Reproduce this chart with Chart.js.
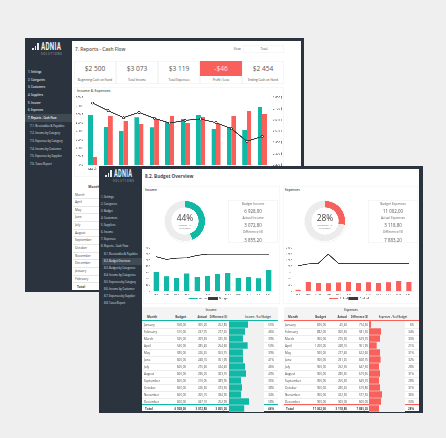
<!DOCTYPE html>
<html>
<head>
<meta charset="utf-8">
<script src="https://cdn.jsdelivr.net/npm/chart.js@4/dist/chart.umd.min.js"></script>
<style>
html, body { margin: 0; padding: 0; background: #efefef; }
body { width: 446px; height: 438px; overflow: hidden; position: relative; font-family: "Open Sans", sans-serif; color: #444; filter: blur(0.35px); }
.box, canvas, .txt { position: absolute; }
.txt { white-space: nowrap; line-height: 1; transform-origin: 0 0; }
</style>
</head>
<body>
<script>
// data
const months = ['January', 'February', 'March', 'April', 'May', 'June', 'July', 'August', 'September', 'October', 'November', 'December']
const monthsShort = ['JAN', 'FEB', 'MAR', 'APR', 'MAY', 'JUN', 'JUL', 'AUG', 'SEP', 'OCT', 'NOV', 'DEC']
const cashMonths = ['March', 'April', 'May', 'June', 'July', 'August', 'September', 'October', 'November', 'December', 'January', 'February']

const cashIncome = [594, 451, 408, 566, 447, 507, 543, 594, 428, 455, 420, 685]
const cashExpenses = [99, 586, 523, 491, 543, 582, 499, 570, 491, 582, 642, 606]
const cashBalance = [2752, 2684, 2622, 2669, 2616, 2574, 2598, 2610, 2577, 2524, 2411, 2455]

const incomeBudget = [558, 515, 535, 540, 580, 600, 600, 600, 600, 600, 600, 600]
const incomeActual = [305.2, 237.75, 209.5, 285.4, 226.25, 248.1, 275.6, 296.25, 210.05, 226.5, 205.1, 347.1]
const incomeDiff = [252.8, 277.25, 325.5, 254.6, 353.75, 351.9, 324.4, 303.75, 389.95, 373.5, 394.9, 252.9]
const incomePct = [55, 46, 39, 53, 39, 41, 46, 49, 35, 38, 34, 58]
const incomeTotals = [6928, 3072.8, 3855.2, 44]

const expenseBudget = [820, 882, 900, 1200, 900, 900, 900, 900, 900, 900, 900, 900]
const expenseActual = [45.4, 300.5, 270.3, 248.1, 277.4, 291.25, 252.5, 280.35, 250.3, 280.2, 322.5, 300]
const expenseDiff = [774.6, 581.5, 629.7, 951.9, 622.6, 608.75, 647.5, 619.65, 649.7, 619.8, 577.5, 600]
const expensePct = [6, 34, 30, 21, 31, 32, 28, 31, 28, 31, 36, 33]
const expenseTotals = [11002, 3118.8, 7883.2, 28]

const kpiValues = ['$2 500', '$3 073', '$3 119', '-$46', '$2 454']
const kpiLabels = ['Beginning Cash on Hand', 'Total Income', 'Total Expenses', 'Profit / Loss', 'Ending Cash on Hand']
const backMenu = ['1. Settings', '2. Categories', '3. Customers', '4. Suppliers', '5. Income', '6. Expenses', '7. Reports - Cash Flow', '7.1. Receivables & Payables', '7.2. Income by Category', '7.3. Expenses by Category', '7.4. Income by Customer', '7.5. Expenses by Supplier', '7.6. Taxes Report']
const frontMenu = ['1. Settings', '2. Categories', '3. Budget', '4. Customers', '5. Suppliers', '6. Income', '7. Expenses', '8. Reports - Cash Flow', '8.1. Receivables & Payables', '8.2. Budget Overview', '8.3. Budget by Categories', '8.4. Income by Categories', '8.5. Expenses by Category', '8.6. Income by Customer', '8.7. Expenses by Supplier', '8.8. Taxes Report']

const TEAL = '#12b8a6'
const RED = '#f8605c'
const DARK = '#2b343e'
const LINE = '#3a3a3a'
const TEXT_ZOOM = 4


function addBox(x, y, w, h, bg, border) {
    const d = document.createElement('div')
    d.className = 'box'
    d.style.cssText = `left:${x}px;top:${y}px;width:${w}px;height:${h}px;background:${bg || 'transparent'};` +
        (border ? `box-shadow:inset 0 0 0 0.5px ${border};` : '')
    document.body.appendChild(d)
    return d
}


// y is the vertical middle of the text, align decides what x means.
// The browser has a minimum font size, so text is set large and scaled down.
function addText(text, x, y, size, opts) {
    opts = opts || {}
    const d = document.createElement('div')
    d.className = 'txt'
    d.textContent = text
    const tx = opts.align === 'right' ? '-100%' : opts.align === 'center' ? '-50%' : '0'
    const sx = (opts.squeeze || 1) / TEXT_ZOOM
    d.style.cssText = `left:${x}px;top:${y}px;font-size:${size * TEXT_ZOOM}px;` +
        `transform:scale(${sx},${1 / TEXT_ZOOM}) translate(${tx},-50%);` +
        `color:${opts.color || '#444'};font-weight:${opts.weight || 400};` +
        (opts.family ? `font-family:${opts.family};` : '') +
        (opts.spacing ? `letter-spacing:${opts.spacing * TEXT_ZOOM}px;` : '')
    document.body.appendChild(d)
}


function addCanvas(x, y, w, h) {
    const c = document.createElement('canvas')
    c.width = w
    c.height = h
    c.style.cssText = `left:${x}px;top:${y}px;width:${w}px;height:${h}px;`
    document.body.appendChild(c)
    return c
}


function money(v) {
    const parts = v.toFixed(2).split('.')
    return parts[0].replace(/\B(?=(\d{3})+$)/g, ' ') + ',' + parts[1]
}


function spaced(v) {
    return String(v).replace(/\B(?=(\d{3})+$)/g, ' ')
}


function addLogo(iconX, iconY, textX, textY, subX, subY, squeeze) {
    const heights = [2.5, 4.5, 7]
    heights.forEach((h, i) => {
        addBox(iconX + i * 2.6, iconY + 7 - h, 1.8, h, '#e8ecef')
    })
    addText('ADNIA', textX, textY, 10, { color: '#f0f3f5', weight: 700, family: 'Roboto', squeeze: squeeze, spacing: 0.5 })
    addText('SOLUTIONS', subX, subY, 2.7, { color: '#aab2b9', spacing: 0.75 })
}


function fixedWidth(w) {
    return (scale) => { scale.width = w }
}


function fixedHeight(h) {
    return (scale) => { scale.height = h }
}


function renderCashChart() {
    new Chart(addCanvas(74, 93, 216, 79), {
        type: 'bar',
        data: {
            labels: cashMonths,
            datasets: [
                { type: 'line', label: 'Balance', data: cashBalance, yAxisID: 'y2', borderColor: LINE, borderWidth: 1, pointRadius: 1.1, pointBackgroundColor: '#fff', pointBorderColor: LINE, pointBorderWidth: 0.7, tension: 0, order: 0 },
                { label: 'Income', data: cashIncome, backgroundColor: TEAL, categoryPercentage: 0.58, barPercentage: 1, order: 1 },
                { label: 'Expenses', data: cashExpenses, backgroundColor: RED, categoryPercentage: 0.58, barPercentage: 1, order: 1 }
            ]
        },
        options: {
            responsive: false,
            animation: false,
            devicePixelRatio: 3,
            layout: { padding: { top: 4.5 } },
            plugins: { legend: { display: false }, tooltip: { enabled: false } },
            scales: {
                x: { afterFit: fixedHeight(7), grid: { display: false, drawTicks: false }, border: { display: false }, ticks: { font: { size: 3.2 }, color: '#555', padding: 2, maxRotation: 0, autoSkip: false } },
                y: { min: 0, max: 800, afterFit: fixedWidth(11), grid: { display: false, drawTicks: false }, border: { display: false }, ticks: { stepSize: 100, font: { size: 2.8 }, color: '#666', padding: 2, callback: (v) => v + ' $' } },
                y2: { position: 'right', min: 2200, max: 2800, afterFit: fixedWidth(20), grid: { display: false, drawTicks: false }, border: { display: false }, ticks: { stepSize: 100, font: { size: 2.8 }, color: '#666', padding: 3, callback: (v) => spaced(v) + ' $' } }
            }
        }
    })
}


function renderBudgetChart(x, w, axisWidth, labels, actual, budget, max, step, color) {
    return new Chart(addCanvas(x, 245, w, 65), {
        type: 'bar',
        data: {
            labels: labels,
            datasets: [
                { label: 'Actual', data: actual, backgroundColor: color, barPercentage: 0.5, categoryPercentage: 1, order: 1 },
                { type: 'line', label: 'Budget', data: budget, borderColor: LINE, backgroundColor: LINE, borderWidth: 0.9, pointRadius: 0, tension: 0, order: 0 }
            ]
        },
        options: {
            responsive: false,
            animation: false,
            devicePixelRatio: 3,
            layout: { padding: { top: 3 } },
            plugins: {
                tooltip: { enabled: false },
                legend: { position: 'bottom', labels: { boxWidth: 9, boxHeight: 1.5, padding: 1, font: { size: 3 }, color: '#666', sort: (a, b) => a.datasetIndex - b.datasetIndex } }
            },
            scales: {
                x: { afterFit: fixedHeight(5), grid: { display: false, drawTicks: false }, border: { color: '#ccc', width: 0.5 }, ticks: { font: { size: 2.6 }, color: '#666', padding: 2, maxRotation: 0, autoSkip: false } },
                y: { min: 0, max: max, afterFit: fixedWidth(axisWidth), grid: { display: false, drawTicks: false }, border: { display: false }, ticks: { stepSize: step, font: { size: 2.6 }, color: '#666', padding: 1, callback: (v) => spaced(v) } }
            }
        }
    })
}


function renderDonut(cx, cy, value, color) {
    addBox(cx - 20.5, cy - 20.5, 41, 41).style.cssText += 'border-radius:50%;background:#fff;box-shadow:0 0 1.5px #ddd;'
    new Chart(addCanvas(cx - 20, cy - 20, 40, 40), {
        type: 'doughnut',
        data: { datasets: [{ data: [value, 100 - value], backgroundColor: [color, '#ececec'], borderWidth: 0 }] },
        options: {
            responsive: false,
            animation: false,
            devicePixelRatio: 3,
            cutout: '68%',
            plugins: { legend: { display: false }, tooltip: { enabled: false } }
        }
    })
}


function renderPctBars(x, w, values, color) {
    addBox(x, 321, w, 91, '#f1f1f1')
    new Chart(addCanvas(x, 321, w, 91), {
        type: 'bar',
        data: {
            labels: months.concat(['Total']),
            datasets: [{ data: values, backgroundColor: color, barPercentage: 0.88, categoryPercentage: 1 }]
        },
        options: {
            indexAxis: 'y',
            responsive: false,
            animation: false,
            devicePixelRatio: 3,
            plugins: { legend: { display: false }, tooltip: { enabled: false } },
            scales: {
                x: { display: false, min: 0, max: 100 },
                y: { display: false }
            }
        }
    })
}


function renderTable(t) {
    addBox(t.left, 307, t.right - t.left, 13, '#f4f4f4')
    addBox(t.left, 320, t.right - t.left, 0.8, t.color)
    addText(t.title, t.titleX, 310, 3, { align: 'center', weight: 600 })
    addText('Month', t.month + 8, 317, 3, { align: 'center', weight: 700 })
    addText('Budget', t.budget, 317, 3, { align: 'right', weight: 700 })
    addText('Actual', t.actual, 317, 3, { align: 'right', weight: 700 })
    addText('Difference ($)', t.diff, 317, 3, { align: 'right', weight: 700, squeeze: 0.85 })
    addText(t.barTitle, t.barTitleX, 317, 3, { align: 'center', weight: 600, squeeze: 0.85 })

    months.forEach((m, i) => {
        const y = 324.5 + 7 * i
        addBox(t.left, y + 3.4, t.right - t.left, 0.4, '#ececec')
        addText(m, t.month, y, 3.1)
        addText(money(t.budgetValues[i]), t.budget, y, 2.9, { align: 'right' })
        addText(money(t.actualValues[i]), t.actual, y, 2.9, { align: 'right' })
        addText(money(t.diffValues[i]), t.diff, y, 2.9, { align: 'right' })
        addText(t.pctValues[i] + '%', t.pct, y, 2.9, { align: 'right' })
    })

    addBox(t.left, 404, t.right - t.left, 0.8, t.color)
    addText('Total', t.month + 1, 408.5, 3.1, { weight: 700 })
    addText(money(t.totals[0]), t.budget, 408.5, 2.9, { align: 'right', weight: 700 })
    addText(money(t.totals[1]), t.actual, 408.5, 2.9, { align: 'right', weight: 700 })
    addText(money(t.totals[2]), t.diff, 408.5, 2.9, { align: 'right', weight: 700 })
    addText(t.totals[3] + '%', t.pct, 408.5, 2.9, { align: 'right', weight: 700 })

    renderPctBars(t.barX, t.barW, t.pctValues.concat([t.totals[3]]), t.color)
}


function drawBackWindow() {
    addBox(25, 38, 279, 254, DARK)
    addBox(72, 41, 229, 249, '#fff')
    addLogo(32, 43, 41, 46.7, 41, 53.7, 0.62)
    addBox(25, 114, 47, 8, '#3f4a55')

    backMenu.forEach((item, i) => {
        addText(item, i > 6 ? 30 : 28, 72 + 7.68 * i, 3, { color: i === 6 ? '#fff' : '#dfe3e6', weight: i < 7 ? 600 : 400, squeeze: 0.9 })
    })

    addText('7. Reports - Cash Flow', 75, 49, 5.2, { weight: 600, color: '#555', squeeze: 0.92 })
    addText('View:', 241, 49, 3, { align: 'right' })
    addBox(243, 45, 41, 8, '#fff', '#eee')
    addText('Total', 263.5, 49, 3, { align: 'center' })

    kpiValues.forEach((v, i) => {
        const x = 74 + 42 * i
        addBox(x, 61, 42, 23, '#fff', '#eee')
        if (i === 3) addBox(x, 61, 42, 15, RED)
        addText(v, x + 21, 68.5, 6.6, { align: 'center', color: i === 3 ? '#ffe3e1' : '#555' })
        addText(kpiLabels[i], x + 21, 79.5, 3, { align: 'center' })
    })

    addBox(74, 87, 210, 90, '#fff', '#f0f0f0')
    addText('Income & Expenses', 77, 91, 3.6, { weight: 600, color: '#555' })
    renderCashChart()

    addText('Month', 94, 187, 3.4, { align: 'center', weight: 700 })
    cashMonths.forEach((m, i) => {
        const y = 194.5 + 7.65 * i
        addBox(73, y + 3.6, 26, 0.4, '#e6e6e6')
        addText(m, 75, y, 3.2)
    })
    addText('Total', 77, 286.5, 3.2, { weight: 700 })
}


function drawFrontWindow() {
    addBox(99, 166, 324, 247, DARK)
    addBox(142, 169, 277, 242, '#fff')
    addLogo(105, 170, 114, 173.5, 113, 181, 0.56)
    addBox(102, 257.5, 40, 7, '#3f4a55')

    frontMenu.forEach((item, i) => {
        const y = i < 8 ? 197 + 7 * i : 254 + 7 * (i - 8)
        addText(item, i > 7 ? 104 : 101, y, 3, { color: i === 9 ? '#fff' : '#dfe3e6', squeeze: 0.88 })
    })

    addText('8.2. Budget Overview', 145, 176, 4.6, { weight: 700, color: '#4a4a4a' })
    addText('Income', 145, 190, 3.3, { weight: 600 })
    addText('Expenses', 285, 190, 3.3, { weight: 600 })
    addBox(143, 186, 137, 118, 'transparent', '#f2f2f2')
    addBox(283, 186, 135, 118, 'transparent', '#f2f2f2')

    renderDonut(185, 221, incomeTotals[3], TEAL)
    renderDonut(325, 221, expenseTotals[3], RED)
    addText(incomeTotals[3] + '%', 185, 218, 8.4, { align: 'center', color: '#444' })
    addText('Income - % ', 185, 225, 2.5, { align: 'center', color: '#777' })
    addText('of Budget', 185, 228, 2.5, { align: 'center', color: '#777' })
    addText(expenseTotals[3] + '%', 325, 218, 8.4, { align: 'center', color: '#444' })
    addText('Expenses - % ', 325, 225, 2.5, { align: 'center', color: '#777' })
    addText('of Budget', 325, 228, 2.5, { align: 'center', color: '#777' })

    addBox(228, 200, 50, 43, '#fff', '#eee')
    addText('Budget Income', 253, 204, 3.2, { align: 'center', color: '#666' })
    addText(money(incomeTotals[0]), 253, 211, 4.4, { align: 'center', color: '#555' })
    addText('Actual Income', 253, 218, 3.2, { align: 'center', color: '#666' })
    addText(money(incomeTotals[1]), 253, 225, 4.4, { align: 'center', color: '#555' })
    addText('Difference ($)', 253, 232, 3.2, { align: 'center', color: '#666' })
    addText(money(incomeTotals[2]), 253, 240, 4.4, { align: 'center', color: '#555' })

    addBox(368, 200, 50, 43, '#fff', '#eee')
    addText('Budget Expenses', 393, 204, 3.2, { align: 'center', color: '#666' })
    addText(money(expenseTotals[0]), 393, 211, 4.4, { align: 'center', color: '#555' })
    addText('Actual Expenses', 393, 218, 3.2, { align: 'center', color: '#666' })
    addText(money(expenseTotals[1]), 393, 225, 4.4, { align: 'center', color: '#555' })
    addText('Difference ($)', 393, 232, 3.2, { align: 'center', color: '#666' })
    addText(money(expenseTotals[2]), 393, 240, 4.4, { align: 'center', color: '#555' })

    renderBudgetChart(143, 131, 8, monthsShort, incomeActual, incomeBudget, 700, 100, TEAL)
    renderBudgetChart(284, 130, 9, monthsShort, expenseActual, expenseBudget, 1400, 200, RED)

    renderTable({
        title: 'Income', titleX: 211, left: 142, right: 278, color: TEAL,
        month: 144, budget: 186, actual: 207, diff: 227, pct: 274,
        barTitle: 'Income - % of Budget', barTitleX: 258, barX: 229, barW: 35,
        budgetValues: incomeBudget, actualValues: incomeActual, diffValues: incomeDiff, pctValues: incomePct, totals: incomeTotals
    })
    renderTable({
        title: 'Expenses', titleX: 351, left: 284, right: 419, color: RED,
        month: 285, budget: 326, actual: 347, diff: 368, pct: 414,
        barTitle: 'Expenses - % of Budget', barTitleX: 393, barX: 369, barW: 36,
        budgetValues: expenseBudget, actualValues: expenseActual, diffValues: expenseDiff, pctValues: expensePct, totals: expenseTotals
    })
}


drawBackWindow()
drawFrontWindow()
</script>
</body>
</html>
